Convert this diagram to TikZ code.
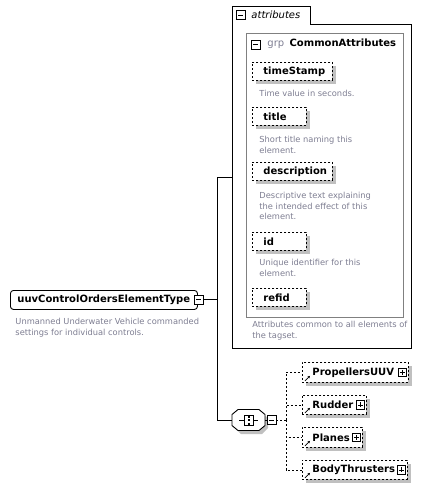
\documentclass[tikz,border=0pt]{standalone}
\usepackage{fontspec}
\setmainfont{DejaVu Sans}
\usetikzlibrary{positioning, shadows, arrows.meta}

\definecolor{descgray}{RGB}{125,125,145}
\definecolor{grpgray}{RGB}{128,128,128}
\definecolor{shadowgray}{RGB}{192,192,192}

\tikzset{
  namefont/.style={font=\fontsize{10}{12}\selectfont\bfseries},
  desc/.style={font=\fontsize{8.3}{10.8}\selectfont, text=descgray, align=left, anchor=north west, inner sep=0pt},
  boxshadow/.style={drop shadow={shadow xshift=3.5pt, shadow yshift=-3.5pt, fill=shadowgray, draw=none, opacity=1}},
  elembox/.style={namefont, draw, fill=white, anchor=north west, align=left, inner sep=0pt},
  optbox/.style={elembox, dash pattern=on 2pt off 2pt, boxshadow},
  minusbox/.style={draw, fill=white, minimum size=9pt, inner sep=0pt, line width=0.8pt,
    path picture={\draw (path picture bounding box.center) ++(-2.5,0) -- ++(5,0);}},
  plusbox/.style={draw, fill=white, minimum size=8.5pt, inner sep=0pt, line width=0.8pt,
    path picture={\draw (path picture bounding box.center) ++(-2.5,0) -- ++(5,0);
                  \draw (path picture bounding box.center) ++(0,-2.5) -- ++(0,5);}},
  refarrow/.style={-{Stealth[length=2.5pt, width=2.5pt]}, line width=0.8pt},
  conn/.style={dash pattern=on 2pt off 2pt}
}

\begin{document}
\begin{tikzpicture}[x=1pt, y=-1pt, line width=0.9pt]
\useasboundingbox (0,0) rectangle (427,490);

%main element
\node[elembox, rounded corners=3pt, text width=187pt, minimum height=19pt] (main) at (10,290) {\hspace*{7pt}uuvControlOrdersElementType};
\node[minusbox] (mainminus) at (198.5,299.5) {};
\node[desc] (maindesc) at (15,317.5) {Unmanned Underwater Vehicle commanded\\settings for individual controls.};

%attributes container
\node[anchor=north west, minimum width=179pt, minimum height=342pt, inner sep=0pt] (attrs) at (232,6) {};
\draw (attrs.north west) -- ++(78,0) -- ++(0,18) -| (attrs.south east) -| (attrs.north west);
\node[minusbox] (attrsminus) at (240.5,15) {};
\node[anchor=west, font=\fontsize{10}{12}\selectfont\itshape, inner sep=0pt] (attrstitle) at (251,15) {attributes};
\node[desc] (attrsdesc) at (252,320.5) {Attributes common to all elements of\\the tagset.};

%attribute group
\node[draw=grpgray, anchor=north west, minimum width=157pt, minimum height=284pt, inner sep=0pt] (grp) at (246,33) {};
\node[minusbox] (grpminus) at (255.5,44.5) {};
\node[anchor=west, font=\fontsize{10}{12}\selectfont, text=descgray, inner sep=0pt] (grplabel) at (267,44.5) {grp};
\node[namefont, base right=4.5pt of grplabel, inner sep=0pt] (grpname) {CommonAttributes};

%attributes
\node[optbox, text width=80pt, minimum height=18pt] (timestamp) at (252,62) {\hspace*{11pt}timeStamp};
\node[desc] (timestampdesc) at (259,89.5) {Time value in seconds.};

\node[optbox, text width=54pt, minimum height=18pt] (title) at (252,107) {\hspace*{11pt}title};
\node[desc] (titledesc) at (259,136) {Short title naming this\\element.};

\node[optbox, text width=80pt, minimum height=18pt] (description) at (252,162) {\hspace*{11pt}description};
\node[desc] (descriptiondesc) at (259,191.5) {Descriptive text explaining\\the intended effect of this\\element.};

\node[optbox, text width=54pt, minimum height=18pt] (id) at (252,232) {\hspace*{11pt}id};
\node[desc] (iddesc) at (259,258.5) {Unique identifier for this\\element.};

\node[optbox, text width=54pt, minimum height=18pt] (refid) at (252,288) {\hspace*{11pt}refid};

%sequence
\node[minimum width=33pt, minimum height=21pt, inner sep=0pt] (seq) at (248.5,420) {};
\fill[shadowgray] (235,418) -- (241,413) -- (262,413) -- (268,418) -- (268,428) -- (262,434) -- (241,434) -- (235,428) -- cycle;
\draw[fill=white] (232,414.5) -- (238,409.5) -- (259,409.5) -- (265,414.5) -- (265,425.5) -- (259,430.5) -- (238,430.5) -- (232,425.5) -- cycle;
\draw[line width=0.8pt] (239,420) -- (258,420);
\draw[line width=0.8pt, fill=white] (244,415) rectangle (253,425);
\fill (247.5,415.5) rectangle (249.5,417.5);
\fill (247.5,419) rectangle (249.5,421);
\fill (247.5,422.5) rectangle (249.5,424.5);
\node[minusbox] (seqminus) at (271.5,420) {};

%child elements
\node[optbox, text width=106pt, minimum height=20pt] (propellers) at (302,362) {\hspace*{10pt}PropellersUUV};
\node[plusbox] (propellersplus) at ([xshift=-6.5pt]propellers.east) {};
\draw[refarrow] ([shift={(3,-2)}]propellers.south west) -- ++(5,-5);

\node[optbox, text width=64pt, minimum height=19pt] (rudder) at (302,395) {\hspace*{10pt}Rudder};
\node[plusbox] (rudderplus) at ([xshift=-6.5pt]rudder.east) {};
\draw[refarrow] ([shift={(3,-2)}]rudder.south west) -- ++(5,-5);

\node[optbox, text width=60pt, minimum height=20pt] (planes) at (302,427) {\hspace*{10pt}Planes};
\node[plusbox] (planesplus) at ([xshift=-6.5pt]planes.east) {};
\draw[refarrow] ([shift={(3,-2)}]planes.south west) -- ++(5,-5);

\node[optbox, text width=105pt, minimum height=19pt] (body) at (302,460) {\hspace*{10pt}BodyThrusters};
\node[plusbox] (bodyplus) at ([xshift=-6.5pt]body.east) {};
\draw[refarrow] ([shift={(3,-2)}]body.south west) -- ++(5,-5);

%connectors
\coordinate (trunk) at (217,299.5);
\coordinate (fork) at (286,420);
\draw (mainminus) -- (trunk);
\draw (trunk) |- (attrs.west);
\draw (trunk) |- (seq.west);
\draw (seq) -- (seqminus);
\draw[conn] (seqminus) -- (fork);
\draw[conn] (fork) |- (propellers.west);
\draw[conn] (fork) |- (rudder.west);
\draw[conn] (fork) |- (planes.west);
\draw[conn] (fork) |- (body.west);

\end{tikzpicture}
\end{document}
